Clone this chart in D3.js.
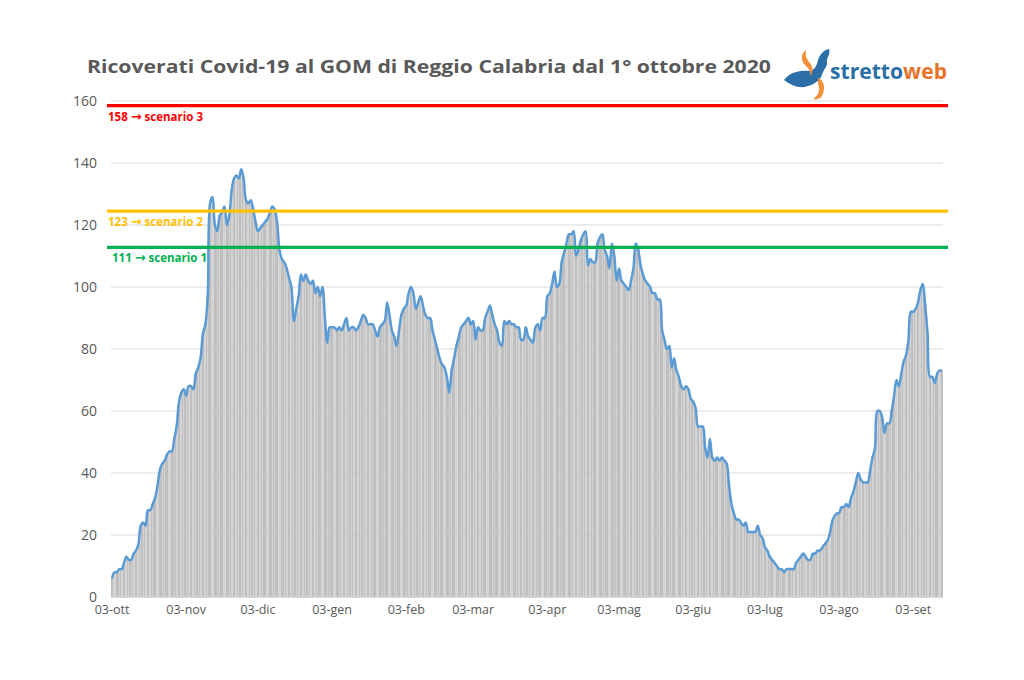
<!DOCTYPE html>
<html>
<head>
<meta charset="utf-8">
<script src="https://cdn.jsdelivr.net/npm/d3@7"></script>
<style>
  html, body { margin: 0; padding: 0; background: #ffffff; }
  svg { display: block; }
</style>
</head>
<body>
<svg id="chart" width="1024" height="680"></svg>
<script>
// ---------------- DATA ----------------
const startDate = "2020-10-03";
const ricoverati = [
  6, 8, 8, 9, 9, 11, 13, 12, 12, 14,
  15, 17, 23, 24, 23, 28, 28, 30, 32, 36,
  41, 43, 44, 46, 47, 47, 51, 55, 63, 66,
  67, 65, 68, 68, 67, 72, 74, 77, 85, 88,
  97, 127, 129, 120, 118, 123, 124, 126, 120, 123,
  131, 135, 136, 135, 138, 135, 128, 127, 128, 125,
  121, 118, 119, 120, 121, 122, 124, 126, 125, 121,
  112, 109, 108, 106, 103, 100, 89, 93, 97, 104,
  102, 104, 102, 101, 102, 98, 100, 97, 100, 90,
  82, 87, 87, 87, 86, 87, 86, 88, 90, 86,
  87, 87, 86, 87, 89, 91, 90, 88, 88, 88,
  86, 84, 87, 88, 89, 95, 91, 86, 84, 81,
  86, 91, 93, 94, 98, 100, 98, 93, 95, 97,
  94, 91, 90, 90, 86, 83, 80, 77, 75, 74,
  71, 66, 73, 77, 81, 84, 87, 88, 89, 90,
  88, 89, 83, 87, 86, 86, 90, 92, 94, 91,
  88, 86, 82, 81, 89, 88, 89, 88, 88, 87,
  87, 83, 83, 87, 84, 83, 82, 87, 88, 86,
  90, 90, 97, 98, 101, 105, 100, 101, 108, 111,
  114, 117, 117, 118, 110, 112, 115, 117, 118, 107,
  109, 108, 108, 114, 116, 117, 112, 110, 106, 114,
  110, 102, 106, 102, 101, 100, 99, 102, 106, 114,
  112, 107, 104, 102, 101, 100, 98, 98, 96, 96,
  86, 83, 80, 81, 74, 77, 73, 71, 68, 67,
  68, 67, 64, 63, 61, 55, 55, 55, 48, 45,
  51, 45, 44, 45, 44, 45, 44, 43, 36, 30,
  27, 25, 25, 24, 23, 24, 21, 21, 21, 21,
  23, 20, 19, 16, 15, 13, 12, 11, 10, 9,
  9, 8, 9, 9, 9, 9, 11, 12, 13, 14,
  13, 12, 12, 14, 14, 15, 15, 16, 17, 18,
  20, 24, 26, 27, 27, 29, 29, 30, 29, 32,
  34, 37, 40, 38, 37, 37, 37, 41, 45, 48,
  60, 60, 58, 53, 56, 56, 60, 65, 70, 68,
  72, 76, 78, 83, 92, 92, 93, 95, 99, 101,
  94, 85, 71, 71, 69, 72, 73, 73
];
const scenarioValues = [158.5, 124.5, 112.8];
const scenarioLabels = ["158 \u2192 scenario 3", "123 \u2192 scenario 2", "111 \u2192 scenario 1"];
const scenarioColors = ["#ff0000", "#ffc000", "#00b050"];
const yTicks = [0, 20, 40, 60, 80, 100, 120, 140, 160];
const xTickLabels = ["03-ott", "03-nov", "03-dic", "03-gen", "03-feb", "03-mar",
                     "03-apr", "03-mag", "03-giu", "03-lug", "03-ago", "03-set"];
const title = "Ricoverati Covid-19 al GOM di Reggio Calabria dal 1\u00b0 ottobre 2020";

// ---------------- CHART ----------------
const svg = d3.select("#chart");
const parse = d3.timeParse("%Y-%m-%d");
const d0 = parse(startDate);
const dates = ricoverati.map((v, i) => d3.timeDay.offset(d0, i));
const data = ricoverati.map((v, i) => ({ date: dates[i], key: i, value: v }));

const plot = { left: 111, right: 943, top: 101, bottom: 597 };

const x = d3.scaleBand()
  .domain(data.map(d => d.key))
  .range([plot.left, plot.right])
  .paddingInner(0.3)
  .paddingOuter(0.1);
const y = d3.scaleLinear().domain([0, 160]).range([plot.bottom, plot.top]);

// gridlines
svg.append("g").selectAll("line").data(yTicks.filter(t => t > 0)).join("line")
  .attr("x1", plot.left).attr("x2", plot.right)
  .attr("y1", d => y(d)).attr("y2", d => y(d))
  .attr("stroke", "#d9d9d9").attr("stroke-width", 1);

// y axis labels
const yAxis = d3.axisLeft(y).tickValues(yTicks).tickSize(0).tickPadding(0);
const yg = svg.append("g").attr("transform", `translate(${plot.left - 14},0)`).call(yAxis);
yg.select(".domain").remove();
yg.selectAll("text")
  .attr("font-family", "'Open Sans', sans-serif")
  .attr("font-size", 14)
  .attr("fill", "#595959")
  .attr("dy", "0.35em");

// bars
svg.append("g").attr("shape-rendering", "crispEdges")
  .selectAll("rect").data(data).join("rect")
  .attr("x", d => x(d.key))
  .attr("width", x.bandwidth())
  .attr("y", d => y(d.value))
  .attr("height", d => y(0) - y(d.value))
  .attr("fill", "#d3d3d3")
  .attr("stroke", "#ababab")
  .attr("stroke-width", 0.5);

// baseline
svg.append("line")
  .attr("x1", plot.left).attr("x2", plot.right)
  .attr("y1", y(0)).attr("y2", y(0))
  .attr("stroke", "#d9d9d9").attr("stroke-width", 1);

// x axis labels
const tickKeys = data.filter(d => d.date.getDate() === 3).map(d => d.key);
const xg = svg.append("g").attr("transform", `translate(0,${plot.bottom + 13})`);
xg.selectAll("text").data(tickKeys).join("text")
  .attr("x", k => x(k) + x.bandwidth() / 2)
  .attr("y", 0)
  .attr("dy", "0.35em")
  .attr("text-anchor", "middle")
  .attr("font-family", "'Open Sans', sans-serif")
  .attr("font-size", 12.5)
  .attr("fill", "#595959")
  .text((k, i) => xTickLabels[i]);

// line
const line = d3.line()
  .x(d => x(d.key) + x.bandwidth() / 2)
  .y(d => y(d.value))
  .curve(d3.curveCatmullRom.alpha(0.5));
svg.append("path").datum(data)
  .attr("d", line)
  .attr("fill", "none")
  .attr("stroke", "#5b9bd5")
  .attr("stroke-width", 2.5)
  .attr("stroke-linejoin", "round");

// scenario lines
const scen = scenarioValues.map((v, i) => ({ v, label: scenarioLabels[i], color: scenarioColors[i] }));
svg.append("g").selectAll("line").data(scen).join("line")
  .attr("x1", plot.left - 4).attr("x2", plot.right + 5)
  .attr("y1", d => y(d.v)).attr("y2", d => y(d.v))
  .attr("stroke", d => d.color).attr("stroke-width", 3.2);
svg.append("g").selectAll("text").data(scen).join("text")
  .attr("x", (d, i) => i === 2 ? plot.left + 1 : plot.left - 3)
  .attr("y", d => y(d.v) + 15)
  .attr("font-family", "'Open Sans', sans-serif")
  .attr("font-weight", "bold")
  .attr("font-size", 11.5)
  .attr("fill", d => d.color)
  .each(function(d) {
    const parts = d.label.split("\u2192");
    const t = d3.select(this);
    t.append("tspan").text(parts[0]);
    t.append("tspan").attr("font-family", "'DejaVu Sans', sans-serif")
      .attr("font-size", 13).text("\u2192");
    t.append("tspan").text(parts[1]);
  });

// title
svg.append("text")
  .attr("x", 87).attr("y", 73)
  .attr("font-family", "'Open Sans', sans-serif")
  .attr("font-weight", "bold")
  .attr("font-size", 17.5)
  .attr("fill", "#595959")
  .attr("textLength", 684)
  .attr("lengthAdjust", "spacingAndGlyphs")
  .text(title);

// logo
const logo = svg.append("g");
logo.append("path")
  .attr("d", "M784,80 C790,72 800,70 810,71 C814,70 817,66 818,60 C820,54 824,50 829,49 C831,54 826,58 827,62 C828,66 823,70 822,75 C820,80 815,84 808,86 C800,89 792,86 784,80 Z")
  .attr("fill", "#2b6ea8");
logo.append("path")
  .attr("d", "M806,50 C800,54 801,62 806,66 C809,69 811,72 810,76 C814,72 813,66 809,62 C806,58 805,54 806,50 Z")
  .attr("fill", "#f0913a");
logo.append("path")
  .attr("d", "M818,78 C824,80 826,88 822,96 C820,99 816,100 813,99 C818,96 821,90 818,84 Z")
  .attr("fill", "#f0913a");
logo.append("text")
  .attr("x", 830).attr("y", 79)
  .attr("font-family", "'Open Sans', sans-serif")
  .attr("font-weight", "bold")
  .attr("font-size", 21)
  .attr("textLength", 117)
  .attr("lengthAdjust", "spacingAndGlyphs")
  .call(t => {
    t.append("tspan").attr("fill", "#2a6fa8").text("stretto");
    t.append("tspan").attr("fill", "#e8742a").text("web");
  });
</script>
</body>
</html>
